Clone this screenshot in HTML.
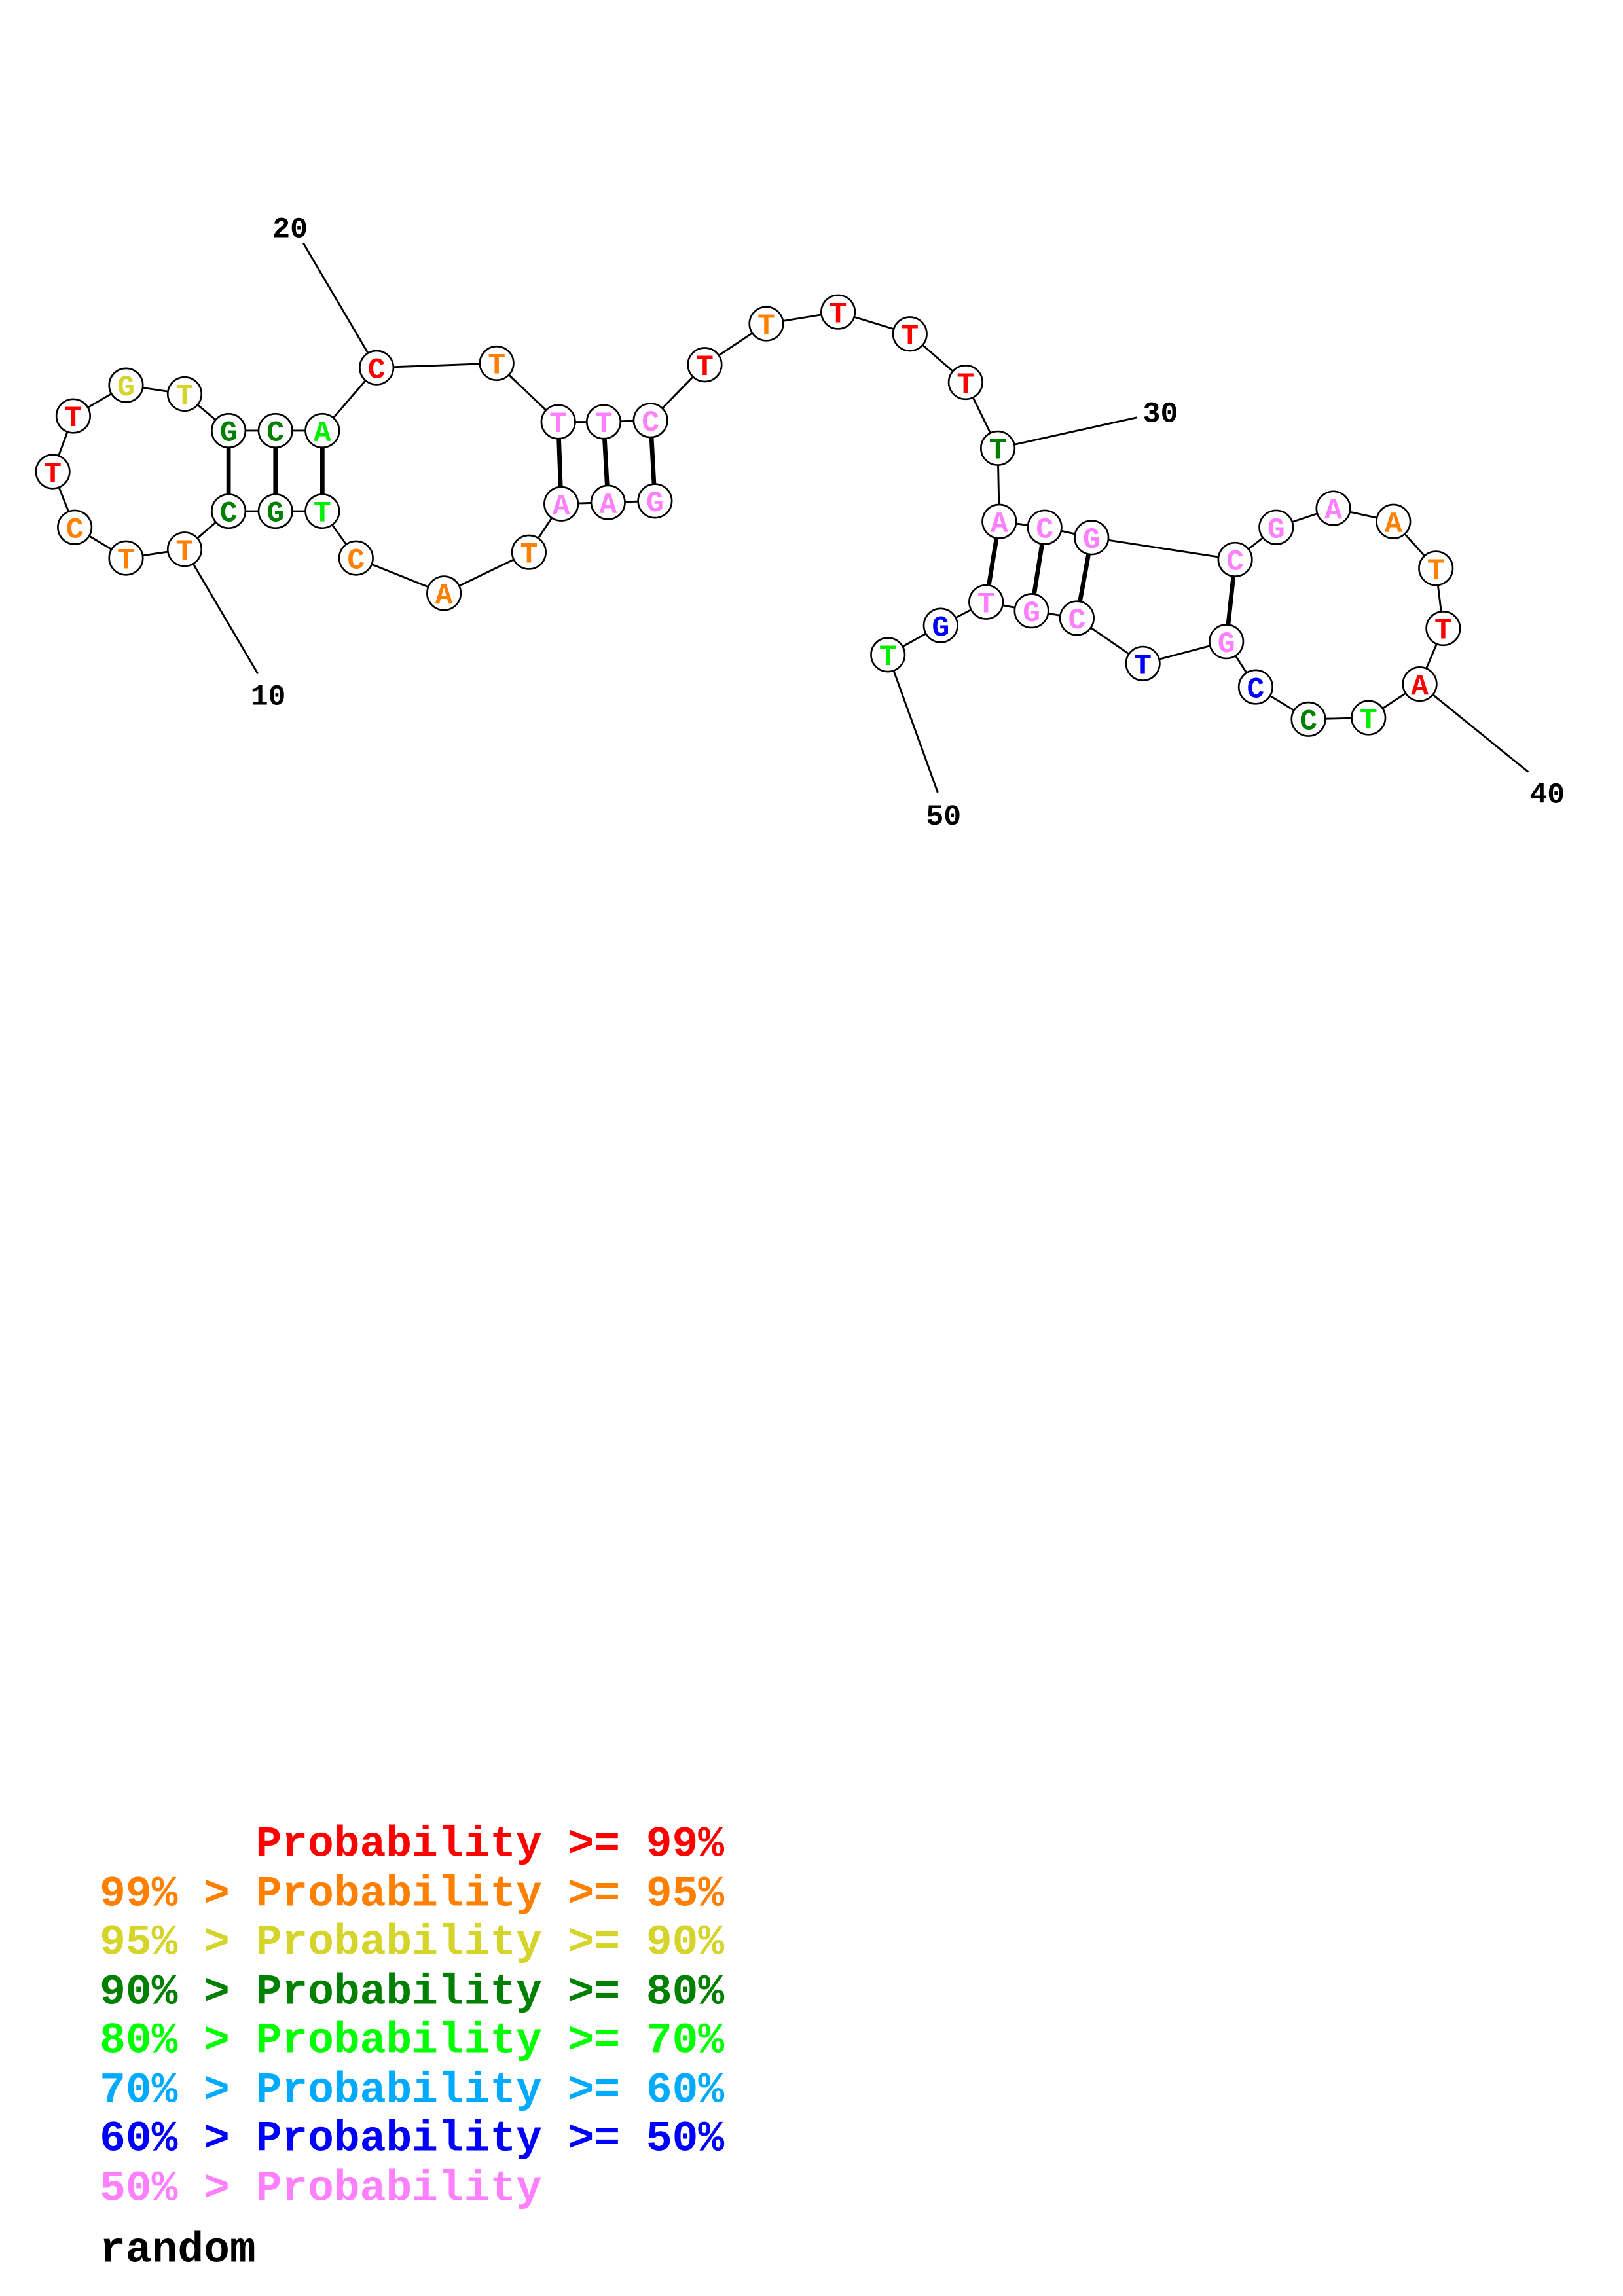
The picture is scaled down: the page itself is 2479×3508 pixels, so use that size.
<!DOCTYPE html>
<html><head><meta charset="utf-8"><style>html,body{margin:0;padding:0;background:#fff}svg{display:block}</style></head>
<body>
<svg width="2479" height="3508" viewBox="0 0 1107.7 1567.5" preserveAspectRatio="none" xmlns="http://www.w3.org/2000/svg">
<g stroke="#000" stroke-width="1.3" fill="none">
<polyline points="447,342 415,343 383,344 361,377 303,405 243,381 220,349 188,349 156,349 126,375 86,381 51,360 36,322 50,284 86,263 126,269 156,294 188,294 220,294 257,251 339,248 381,288 412,288 444,287 481,249 523,221 572,213 621,228 659,261 681,306 682,356 713,360 745,367 843,382 871,360 910,347 951,356 980,388 985,429 969,467 934,490 893,491 857,469 837,438 780,453 735,422 704,417 673,411 642,427 606,447"/>
<line x1="207" y1="166" x2="257" y2="251"/>
<line x1="176" y1="460" x2="126" y2="375"/>
<line x1="776" y1="285" x2="681" y2="306"/>
<line x1="1043" y1="527" x2="969" y2="467"/>
<line x1="640" y1="541" x2="606" y2="447"/>
</g>
<g stroke="#000" stroke-width="3">
<line x1="447" y1="342" x2="444" y2="287"/><line x1="415" y1="343" x2="412" y2="288"/><line x1="383" y1="344" x2="381" y2="288"/>
<line x1="220" y1="349" x2="220" y2="294"/><line x1="188" y1="349" x2="188" y2="294"/><line x1="156" y1="349" x2="156" y2="294"/>
<line x1="682" y1="356" x2="673" y2="411"/><line x1="713" y1="360" x2="704" y2="417"/><line x1="745" y1="367" x2="735" y2="422"/><line x1="843" y1="382" x2="837" y2="438"/>
</g>
<g font-family="Liberation Mono, monospace" font-weight="bold" font-size="20" text-anchor="middle">
<g stroke="#000" stroke-width="1.2" fill="#fff">
<circle cx="447" cy="342" r="11.5"/><circle cx="415" cy="343" r="11.5"/><circle cx="383" cy="344" r="11.5"/><circle cx="361" cy="377" r="11.5"/><circle cx="303" cy="405" r="11.5"/><circle cx="243" cy="381" r="11.5"/><circle cx="220" cy="349" r="11.5"/><circle cx="188" cy="349" r="11.5"/><circle cx="156" cy="349" r="11.5"/><circle cx="126" cy="375" r="11.5"/><circle cx="86" cy="381" r="11.5"/><circle cx="51" cy="360" r="11.5"/><circle cx="36" cy="322" r="11.5"/><circle cx="50" cy="284" r="11.5"/><circle cx="86" cy="263" r="11.5"/><circle cx="126" cy="269" r="11.5"/><circle cx="156" cy="294" r="11.5"/><circle cx="188" cy="294" r="11.5"/><circle cx="220" cy="294" r="11.5"/><circle cx="257" cy="251" r="11.5"/><circle cx="339" cy="248" r="11.5"/><circle cx="381" cy="288" r="11.5"/><circle cx="412" cy="288" r="11.5"/><circle cx="444" cy="287" r="11.5"/><circle cx="481" cy="249" r="11.5"/><circle cx="523" cy="221" r="11.5"/><circle cx="572" cy="213" r="11.5"/><circle cx="621" cy="228" r="11.5"/><circle cx="659" cy="261" r="11.5"/><circle cx="681" cy="306" r="11.5"/><circle cx="682" cy="356" r="11.5"/><circle cx="713" cy="360" r="11.5"/><circle cx="745" cy="367" r="11.5"/><circle cx="843" cy="382" r="11.5"/><circle cx="871" cy="360" r="11.5"/><circle cx="910" cy="347" r="11.5"/><circle cx="951" cy="356" r="11.5"/><circle cx="980" cy="388" r="11.5"/><circle cx="985" cy="429" r="11.5"/><circle cx="969" cy="467" r="11.5"/><circle cx="934" cy="490" r="11.5"/><circle cx="893" cy="491" r="11.5"/><circle cx="857" cy="469" r="11.5"/><circle cx="837" cy="438" r="11.5"/><circle cx="780" cy="453" r="11.5"/><circle cx="735" cy="422" r="11.5"/><circle cx="704" cy="417" r="11.5"/><circle cx="673" cy="411" r="11.5"/><circle cx="642" cy="427" r="11.5"/><circle cx="606" cy="447" r="11.5"/>
</g>
<text x="447" y="349" fill="#ff80ff">G</text><text x="415" y="350" fill="#ff80ff">A</text><text x="383" y="351" fill="#ff80ff">A</text><text x="361" y="384" fill="#ff8000">T</text><text x="303" y="412" fill="#ff8000">A</text><text x="243" y="388" fill="#ff8000">C</text><text x="220" y="356" fill="#00ee00">T</text><text x="188" y="356" fill="#008000">G</text><text x="156" y="356" fill="#008000">C</text><text x="126" y="382" fill="#ff8000">T</text><text x="86" y="388" fill="#ff8000">T</text><text x="51" y="367" fill="#ff8000">C</text><text x="36" y="329" fill="#ff0000">T</text><text x="50" y="291" fill="#ff0000">T</text><text x="86" y="270" fill="#d4d42a">G</text><text x="126" y="276" fill="#d4d42a">T</text><text x="156" y="301" fill="#008000">G</text><text x="188" y="301" fill="#008000">C</text><text x="220" y="301" fill="#00ee00">A</text><text x="257" y="258" fill="#ff0000">C</text><text x="339" y="255" fill="#ff8000">T</text><text x="381" y="295" fill="#ff80ff">T</text><text x="412" y="295" fill="#ff80ff">T</text><text x="444" y="294" fill="#ff80ff">C</text><text x="481" y="256" fill="#ff0000">T</text><text x="523" y="228" fill="#ff8000">T</text><text x="572" y="220" fill="#ff0000">T</text><text x="621" y="235" fill="#ff0000">T</text><text x="659" y="268" fill="#ff0000">T</text><text x="681" y="313" fill="#008000">T</text><text x="682" y="363" fill="#ff80ff">A</text><text x="713" y="367" fill="#ff80ff">C</text><text x="745" y="374" fill="#ff80ff">G</text><text x="843" y="389" fill="#ff80ff">C</text><text x="871" y="367" fill="#ff80ff">G</text><text x="910" y="354" fill="#ff80ff">A</text><text x="951" y="363" fill="#ff8000">A</text><text x="980" y="395" fill="#ff8000">T</text><text x="985" y="436" fill="#ff0000">T</text><text x="969" y="474" fill="#ff0000">A</text><text x="934" y="497" fill="#00ee00">T</text><text x="893" y="498" fill="#008000">C</text><text x="857" y="476" fill="#0000ff">C</text><text x="837" y="445" fill="#ff80ff">G</text><text x="780" y="460" fill="#0000ff">T</text><text x="735" y="429" fill="#ff80ff">C</text><text x="704" y="424" fill="#ff80ff">G</text><text x="673" y="418" fill="#ff80ff">T</text><text x="642" y="434" fill="#0000ff">G</text><text x="606" y="454" fill="#00ee00">T</text>
</g>
<g font-family="Liberation Mono, monospace" font-weight="bold" font-size="20" text-anchor="middle" fill="#000">
<text x="198" y="162">20</text><text x="183" y="481">10</text><text x="792" y="288">30</text><text x="1056" y="548">40</text><text x="644" y="563">50</text>
</g>
<g font-family="Liberation Mono, monospace" font-weight="bold" font-size="29.6">
<text x="174.5" y="1267" fill="#ff0000">Probability &gt;= 99%</text>
<text x="68" y="1301" fill="#ff8000">99% &gt; Probability &gt;= 95%</text>
<text x="68" y="1334" fill="#d4d42a">95% &gt; Probability &gt;= 90%</text>
<text x="68" y="1368" fill="#008000">90% &gt; Probability &gt;= 80%</text>
<text x="68" y="1401" fill="#00ff00">80% &gt; Probability &gt;= 70%</text>
<text x="68" y="1435" fill="#00aaff">70% &gt; Probability &gt;= 60%</text>
<text x="68" y="1468" fill="#0000ff">60% &gt; Probability &gt;= 50%</text>
<text x="68" y="1502" fill="#ff80ff">50% &gt; Probability</text>
<text x="68" y="1544" fill="#000">random</text>
</g>
</svg>
</body></html>
